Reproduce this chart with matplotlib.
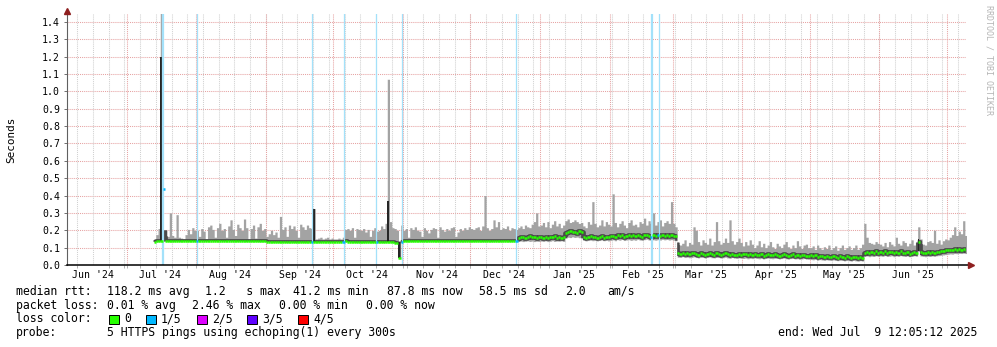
import numpy as np
import pandas as pd
import matplotlib
matplotlib.use("Agg")
import matplotlib.pyplot as plt
import matplotlib.dates as mdates
from matplotlib.patches import Rectangle

# -----------------------------
# Daily values in ms, 2024-07-13 .. 2025-07-09
# -----------------------------
start_day = "2024-07-13"

median_ms = [
    135, 136, 138, 138, 440, 139, 138, 137, 139, 138, 140, 138, 137, 139, 140, 138, 139, 140, 138,  # Jul
    140, 139, 141, 140, 139, 140, 141, 140, 139, 140, 141, 140, 139, 140, 141, 140, 139, 140, 138, 139,
    140, 138, 137, 139, 138, 137, 138, 137, 136, 138, 137,  # Aug
    135, 134, 133, 132, 133, 132, 131, 132, 133, 131, 132, 133, 132, 131, 132, 133, 132, 131, 132, 133,
    132, 133, 134, 133, 132, 134, 133, 134, 133, 134,  # Sep
    134, 135, 134, 133, 135, 136, 135, 134, 133, 132, 131, 132, 130, 131, 132, 133, 132, 131, 133, 132,
    133, 131, 130, 132, 135, 133, 130, 128, 125, 42, 132,  # Oct
    137, 138, 137, 138, 137, 138, 139, 138, 137, 138, 137, 138, 139, 138, 137, 138, 139, 138, 137, 138,
    139, 138, 137, 138, 139, 138, 137, 138, 139, 138,  # Nov
    138, 137, 138, 139, 138, 137, 138, 139, 138, 137, 138, 139, 138, 137, 138, 139, 138, 137, 138, 139,
    140, 158, 160, 163, 158, 162, 165, 159, 163, 157, 161,  # Dec
    164, 158, 162, 157, 163, 160, 165, 158, 161, 157, 163, 185, 190, 194, 189, 192, 187, 193, 188, 162,
    158, 163, 166, 159, 164, 157, 161, 165, 158, 163, 160,  # Jan
    165, 169, 163, 171, 166, 170, 164, 168, 172, 165, 170, 166, 173, 167, 164, 171, 174, 167, 163, 170,
    166, 172, 167, 174, 168, 172, 166, 171,  # Feb
    168, 165, 68, 63, 72, 64, 69, 61, 67, 71, 64, 60, 68, 65, 59, 66, 70, 62, 60, 67,
    64, 58, 63, 68, 61, 57, 66, 60, 56, 63, 58,  # Mar
    61, 64, 56, 62, 57, 65, 59, 55, 62, 54, 60, 64, 57, 55, 62, 59, 53, 58, 63, 55,
    52, 59, 61, 54, 57, 51, 56, 60, 53, 50,  # Apr
    56, 50, 57, 47, 54, 49, 45, 53, 48, 44, 52, 47, 43, 50, 46, 42, 49, 45, 42, 48,
    44, 41, 47, 43, 72, 77, 68, 74, 69, 78, 71,  # May
    76, 70, 78, 68, 73, 77, 67, 75, 70, 79, 72, 68, 76, 66, 71, 77, 72, 134, 75, 69,
    67, 74, 69, 76, 70, 77, 75, 80, 82, 84,  # Jun
    85, 88, 84, 90, 86, 91, 87, 92, 88,  # Jul '25
]

smoke_top_ms = [
    150, 175, 210, 1500, 200, 200, 165, 300, 170, 160, 290, 160, 155, 150, 175, 205, 180, 215, 200,  # Jul
    200, 165, 210, 195, 150, 220, 230, 205, 160, 215, 240, 200, 210, 160, 225, 260, 205, 170, 235, 215,
    200, 265, 215, 150, 210, 230, 155, 220, 240, 200, 210,  # Aug
    165, 180, 200, 175, 190, 160, 280, 205, 220, 165, 230, 210, 225, 200, 160, 235, 220, 205, 230, 215,
    210, 325, 150, 155, 160, 150, 155, 160, 150, 155,  # Sep
    150, 150, 155, 150, 160, 205, 210, 200, 215, 160, 210, 205, 200, 210, 190, 205, 165, 200, 215, 195,
    200, 225, 210, 240, 1070, 250, 215, 210, 200, 135, 230,  # Oct
    200, 210, 160, 215, 205, 220, 200, 195, 165, 215, 200, 185, 205, 215, 210, 160, 220, 205, 195, 210,
    200, 215, 220, 165, 190, 210, 200, 215, 205, 220,  # Nov
    210, 205, 215, 220, 200, 225, 400, 215, 200, 210, 260, 220, 250, 205, 215, 210, 225, 200, 215, 210,
    205, 215, 225, 210, 230, 220, 215, 235, 250, 300, 225,  # Dec
    230, 245, 220, 250, 215, 235, 255, 225, 240, 215, 230, 255, 265, 245, 250, 260, 250, 240, 245, 225,
    215, 250, 235, 365, 240, 220, 230, 260, 225, 250, 235,  # Jan
    225, 410, 245, 220, 240, 255, 230, 215, 245, 260, 230, 235, 220, 250, 240, 270, 230, 255, 240, 300,
    230, 250, 260, 225, 245, 255, 240, 365,  # Feb
    240, 220, 130, 115, 125, 145, 110, 130, 120, 220, 200, 135, 115, 145, 130, 120, 155, 115, 135, 250,
    140, 120, 130, 155, 130, 260, 140, 120, 135, 155, 130,  # Mar
    110, 135, 115, 145, 120, 100, 115, 140, 105, 125, 100, 115, 135, 105, 95, 125, 110, 100, 120, 135,
    105, 95, 115, 100, 140, 110, 95, 115, 120, 100,  # Apr
    100, 110, 90, 115, 100, 90, 105, 95, 115, 90, 100, 110, 85, 100, 115, 90, 100, 110, 90, 100,
    115, 90, 100, 120, 240, 160, 130, 125, 120, 135, 125,  # May
    120, 110, 130, 105, 135, 120, 110, 160, 125, 115, 140, 130, 110, 125, 145, 115, 130, 220, 150, 120,
    115, 135, 140, 130, 200, 125, 145, 120, 140, 150,  # Jun
    145, 160, 175, 220, 170, 195, 180, 255, 170,  # Jul '25
]

smoke_low_ms = [
    133, 134, 136, 136, 136, 137, 136, 135, 137, 136, 138, 136, 135, 137, 138, 136, 137, 138, 136,  # Jul
    138, 137, 139, 138, 137, 138, 139, 138, 137, 138, 139, 138, 137, 138, 139, 138, 137, 138, 136, 137,
    138, 136, 135, 137, 136, 135, 136, 135, 134, 136, 135,  # Aug
    133, 132, 131, 130, 131, 130, 129, 130, 131, 129, 130, 131, 130, 129, 130, 131, 130, 129, 130, 131,
    130, 131, 132, 131, 130, 132, 131, 132, 131, 132,  # Sep
    132, 133, 132, 131, 133, 134, 133, 132, 131, 130, 129, 130, 128, 129, 130, 131, 130, 129, 131, 130,
    131, 129, 128, 130, 133, 131, 128, 126, 123, 38, 130,  # Oct
    135, 136, 135, 136, 135, 136, 137, 136, 135, 136, 135, 136, 137, 136, 135, 136, 137, 136, 135, 136,
    137, 136, 135, 136, 137, 136, 135, 136, 137, 136,  # Nov
    136, 135, 136, 137, 136, 135, 136, 137, 136, 135, 136, 137, 136, 135, 136, 137, 136, 135, 136, 137,
    138, 136, 138, 135, 137, 139, 136, 138, 135, 137, 136,  # Dec
    138, 136, 139, 135, 137, 140, 136, 138, 137, 139, 136, 155, 160, 158, 162, 159, 161, 157, 155, 142,
    139, 141, 143, 140, 142, 139, 141, 144, 140, 142, 139,  # Jan
    142, 145, 140, 146, 143, 147, 141, 144, 146, 142, 145, 143, 148, 144, 142, 146, 149, 144, 141, 145,
    143, 146, 144, 148, 145, 147, 144, 146,  # Feb
    143, 140, 45, 44, 48, 43, 45, 42, 44, 47, 43, 41, 45, 44, 40, 43, 46, 42, 41, 44,
    43, 40, 42, 45, 41, 39, 43, 40, 38, 41, 39,  # Mar
    38, 40, 36, 39, 37, 41, 38, 36, 39, 35, 38, 40, 37, 36, 39, 38, 35, 37, 40, 36,
    34, 37, 38, 35, 36, 33, 35, 37, 34, 33,  # Apr
    32, 30, 33, 28, 31, 29, 27, 30, 28, 26, 29, 27, 25, 28, 26, 24, 27, 25, 23, 26,
    24, 22, 25, 23, 50, 52, 48, 51, 49, 53, 50,  # May
    52, 50, 54, 49, 51, 53, 48, 52, 50, 54, 51, 49, 52, 48, 50, 53, 51, 80, 52, 50,
    48, 51, 49, 52, 50, 53, 54, 56, 58, 60,  # Jun
    62, 64, 63, 66, 65, 67, 66, 68, 66,  # Jul '25
]

# dark inner smoke on a few days
dark_days = ["2024-07-16", "2024-09-22", "2024-10-25", "2024-10-30", "2025-06-18"]
dark_lo_ms = [138, 135, 135, 38, 80]
dark_hi_ms = [1200, 325, 370, 135, 150]

# packet loss events (1/5)
loss_times = ["2024-07-17 05:00", "2024-08-01 13:00", "2024-09-21 17:00", "2024-10-05 17:00",
              "2024-10-20 00:00", "2024-10-31 13:00", "2024-12-21 07:00", "2025-02-19 19:00",
              "2025-02-22 22:00"]

month_labels_at = pd.date_range("2024-06-16", periods=13, freq=pd.DateOffset(months=1))

# -----------------------------
# Figure
# -----------------------------
plt.rcParams['font.family'] = ['DejaVu Sans Mono']
W, H = 997, 347
L, R, T, B = 67, 966, 14, 265
fig = plt.figure(figsize=(W / 100, H / 100), dpi=100)
ax = fig.add_axes([L / W, 1 - B / H, (R - L) / W, (B - T) / H])

t0 = mdates.date2num(pd.Timestamp("2024-06-04 12:05:12"))
t1 = mdates.date2num(pd.Timestamp("2025-07-09 12:05:12"))
ax.set_xlim(t0, t1)
ax.set_ylim(0, 1.446)

MGRID = '#e6a3a3'
GRID = '#d0d0d0'

# grid
for v in np.arange(1, 15) / 10:
    ax.axhline(v, color=MGRID, lw=0.75, ls=(0, (1, 1)), zorder=1)
weeks = mdates.date2num(pd.date_range("2024-06-05", "2025-07-09", freq="W-SUN"))
months = mdates.date2num(pd.date_range("2024-07-01", "2025-07-01", freq="MS"))
for d in weeks:
    ax.axvline(d, color=GRID, lw=0.75, ls=(0, (1, 1)), zorder=1)
for d in months:
    ax.axvline(d, color=MGRID, lw=0.75, ls=(0, (1, 1)), zorder=1)

# series
dates = pd.date_range(start_day, periods=len(median_ms), freq="D")
x = mdates.date2num(dates)
xe = np.append(x, x[-1] + 1)
med = np.array(median_ms) / 1000
top = np.array(smoke_top_ms) / 1000
low = np.array(smoke_low_ms) / 1000

smoke = ax.fill_between(xe, np.append(low, low[-1]), np.append(top, top[-1]), step='post',
                        color='#a3a3a3', lw=0, zorder=2)
band, = ax.step(xe, np.append(med, med[-1]), where='post', color='#4a4a4a', lw=3.4, zorder=3)
band.set_clip_path(smoke.get_paths()[0], smoke.get_transform())

dx = mdates.date2num(pd.to_datetime(dark_days))
ax.bar(dx, (np.array(dark_hi_ms) - np.array(dark_lo_ms)) / 1000, bottom=np.array(dark_lo_ms) / 1000,
       width=0.7, align='edge', color='#262626', lw=0, zorder=3)

loss = pd.to_datetime(loss_times)
for i, t in enumerate(loss):
    ax.axvline(mdates.date2num(t), color='#a3e1fa', lw=1.6 if i in (0, 7) else 0.9, zorder=4)

loss_day_set = set(loss.normalize())
colors = ['#00b8ff' if d in loss_day_set else '#26ff00' for d in dates]
ax.hlines(med, x, x + 1, colors=colors, lw=1.8, zorder=5)

# axes
for s in ['top', 'right']:
    ax.spines[s].set_visible(False)
ax.spines['left'].set_color('#606060')
ax.spines['left'].set_linewidth(0.8)
ax.spines['bottom'].set_visible(False)
ax.plot([0, 1.005], [0, 0], transform=ax.transAxes, color='black', lw=1.1, clip_on=False, zorder=6)
ax.plot([1.006], [0], marker='>', ms=5, color='#8e1f1f', transform=ax.transAxes, clip_on=False, zorder=6)
ax.plot([0], [1.012], marker='^', ms=5, color='#8e1f1f', transform=ax.transAxes, clip_on=False, zorder=6)

yt = np.arange(0, 15) / 10
ax.set_yticks(yt)
ax.set_yticklabels([f"{v:.1f}" for v in yt])
ax.tick_params(axis='y', length=2.5, width=0.7, color='#707070', pad=2.5, labelsize=7.1)

ax.set_xticks(mdates.date2num(month_labels_at))
ax.set_xticklabels([d.strftime("%b '%y") for d in month_labels_at])
ax.set_xticks(np.sort(np.concatenate([weeks, months])), minor=True)
ax.tick_params(axis='x', which='major', length=0, pad=3.5, labelsize=7.1)
ax.tick_params(axis='x', which='minor', length=2, width=0.7, color='#b0b0b0')

# texts
def ftext(px, py, s, **kw):
    fig.text(px / W, 1 - py / H, s, va='baseline', ha='left', fontsize=8.3, **kw)

fig.text(11 / W, 1 - 140 / H, "Seconds", rotation=90, ha='center', va='center', fontsize=7.9)
fig.text(989 / W, 1 - 60 / H, "RRDTOOL / TOBI OETIKER", rotation=270, ha='center', va='center',
         fontsize=6, color='#b5b5b5')

for px, s in [(16, "median rtt:"), (107, "118.2 ms avg"), (205, "1.2   s max"), (293, "41.2 ms min"),
              (387, "87.8 ms now"), (479, "58.5 ms sd"), (565, "2.0"), (607, "am/s")]:
    ftext(px, 295, s)
for px, s in [(16, "packet loss:"), (107, "0.01 % avg"), (192, "2.46 % max"), (279, "0.00 % min"),
              (366, "0.00 % now")]:
    ftext(px, 308.7, s)
ftext(16, 322.4, "loss color:")
for bx, c, s in [(109, '#26ff00', "0"), (146, '#00b8ff', "1/5"), (197, '#dd00ff', "2/5"),
                 (247, '#5e00ff', "3/5"), (298, '#ff0000', "4/5")]:
    fig.patches.append(Rectangle((bx / W, 1 - 323.5 / H), 10 / W, 9 / H, transform=fig.transFigure,
                                 facecolor=c, edgecolor='black', lw=0.7))
    ftext(bx + 15, 322.4, s)
ftext(16, 336, "probe:")
ftext(107, 336, "5 HTTPS pings using echoping(1) every 300s")
ftext(778, 336, "end: Wed Jul  9 12:05:12 2025")

fig.savefig("out.png", dpi=100)
